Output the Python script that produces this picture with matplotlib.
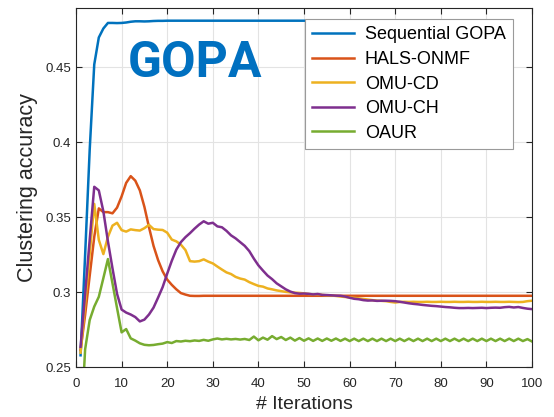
import matplotlib.pyplot as plt
from matplotlib.ticker import FormatStrFormatter

plt.rcParams['font.family'] = ['Liberation Sans', 'DejaVu Sans']

# iteration counts
iters = list(range(1, 101))
iters_gopa = list(range(1, 51))

labels = ["Sequential GOPA", "HALS-ONMF", "OMU-CD", "OMU-CH", "OAUR"]
colors = ["#0072BD", "#D95319", "#EDB120", "#7E2F8E", "#77AC30"]

seq_gopa = [
    0.258, 0.325, 0.395, 0.452, 0.470, 0.476, 0.4797, 0.4797, 0.4796, 0.4797,
    0.4800, 0.4805, 0.4808, 0.4808, 0.4807, 0.4808, 0.4810, 0.4811, 0.4811, 0.4812,
    0.4812, 0.4812, 0.4812, 0.4812, 0.4812, 0.4812, 0.4812, 0.4812, 0.4812, 0.4812,
    0.4812, 0.4812, 0.4812, 0.4812, 0.4812, 0.4812, 0.4812, 0.4812, 0.4812, 0.4812,
    0.4812, 0.4812, 0.4812, 0.4812, 0.4812, 0.4812, 0.4812, 0.4812, 0.4812, 0.4812,
]

hals_onmf = [
    0.2615, 0.285, 0.311, 0.337, 0.356, 0.3535, 0.3535, 0.3527, 0.3565, 0.364,
    0.373, 0.3775, 0.3745, 0.368, 0.357, 0.3435, 0.331, 0.3215, 0.314, 0.3085,
    0.305, 0.302, 0.2995, 0.2985, 0.2977, 0.2976, 0.2976, 0.2977, 0.2977, 0.2977,
    0.2977, 0.2977, 0.2977, 0.2977, 0.2977, 0.2977, 0.2977, 0.2977, 0.2977, 0.2977,
    0.2977, 0.2977, 0.2977, 0.2977, 0.2977, 0.2977, 0.2977, 0.2977, 0.2977, 0.2977,
    0.2977, 0.2977, 0.2977, 0.2977, 0.2977, 0.2977, 0.2977, 0.2977, 0.2977, 0.2977,
    0.2977, 0.2977, 0.2977, 0.2977, 0.2977, 0.2977, 0.2977, 0.2977, 0.2977, 0.2977,
    0.2977, 0.2977, 0.2977, 0.2977, 0.2977, 0.2977, 0.2977, 0.2977, 0.2977, 0.2977,
    0.2977, 0.2977, 0.2977, 0.2977, 0.2977, 0.2977, 0.2977, 0.2977, 0.2977, 0.2977,
    0.2977, 0.2977, 0.2977, 0.2977, 0.2977, 0.2977, 0.2977, 0.2977, 0.2977, 0.2977,
]

omu_cd = [
    0.2597, 0.292, 0.326, 0.359, 0.335, 0.3255, 0.337, 0.3445, 0.3464, 0.3415,
    0.3405, 0.342, 0.3415, 0.3412, 0.3428, 0.345, 0.3422, 0.3418, 0.3416, 0.3398,
    0.3352, 0.334, 0.3318, 0.3282, 0.3208, 0.3205, 0.3208, 0.322, 0.3205, 0.3193,
    0.3172, 0.3152, 0.3133, 0.3122, 0.3103, 0.3092, 0.3085, 0.3068, 0.3055, 0.3043,
    0.3038, 0.3026, 0.302, 0.3013, 0.3008, 0.3003, 0.3, 0.2998, 0.2996, 0.2993,
    0.2989, 0.2986, 0.2987, 0.2983, 0.298, 0.2979, 0.2976, 0.2972, 0.2969, 0.2966,
    0.2963, 0.296, 0.2956, 0.2952, 0.2948, 0.2945, 0.2943, 0.2941, 0.2936, 0.2932,
    0.2936, 0.2937, 0.2936, 0.2937, 0.2936, 0.2936, 0.2937, 0.2936, 0.2936, 0.2937,
    0.2936, 0.2936, 0.2937, 0.2936, 0.2936, 0.2937, 0.2936, 0.2936, 0.2937, 0.2936,
    0.2936, 0.2937, 0.2936, 0.2936, 0.2937, 0.2936, 0.2935, 0.2936, 0.2941, 0.2944,
]

omu_ch = [
    0.2637, 0.299, 0.335, 0.3704, 0.368, 0.354, 0.334, 0.316, 0.299, 0.2885,
    0.2865, 0.2852, 0.2835, 0.2806, 0.2818, 0.2852, 0.2898, 0.2965, 0.3035, 0.3125,
    0.321, 0.3285, 0.3335, 0.3368, 0.3395, 0.3425, 0.3452, 0.3474, 0.3458, 0.3464,
    0.344, 0.3434, 0.341, 0.338, 0.336, 0.3335, 0.331, 0.3275, 0.3225, 0.318,
    0.3145, 0.3112, 0.3088, 0.306, 0.304, 0.302, 0.3005, 0.2995, 0.2991, 0.2992,
    0.299, 0.2986, 0.2989, 0.2983, 0.2982, 0.298, 0.2978, 0.2977, 0.2972, 0.2964,
    0.2957, 0.2954, 0.2948, 0.2945, 0.2946, 0.2943, 0.2944, 0.2944, 0.2943, 0.2941,
    0.2937, 0.2932, 0.2927, 0.2923, 0.292, 0.2916, 0.2913, 0.291, 0.2908, 0.2905,
    0.2902, 0.29, 0.2897, 0.2895, 0.2895, 0.2896, 0.2895, 0.2896, 0.2897, 0.2895,
    0.2897, 0.2898, 0.2897, 0.2901, 0.2903, 0.2899, 0.2902, 0.2896, 0.2891, 0.2888,
]

oaur = [
    0.205, 0.262, 0.2815, 0.2905, 0.297, 0.3095, 0.3222, 0.306, 0.2895, 0.2733,
    0.2755, 0.2693, 0.2678, 0.266, 0.265, 0.2647, 0.2649, 0.2654, 0.2658, 0.2668,
    0.2662, 0.2675, 0.2672, 0.2677, 0.2674, 0.2679, 0.2676, 0.2683, 0.2677, 0.2686,
    0.2692, 0.2686, 0.269, 0.2686, 0.2689, 0.2685, 0.2689, 0.2682, 0.2705, 0.268,
    0.2698, 0.2684, 0.2708, 0.2688, 0.2702, 0.2682, 0.2698, 0.2678, 0.2695, 0.2677,
    0.2693, 0.2676, 0.2692, 0.2676, 0.2692, 0.2677, 0.2692, 0.2676, 0.2691, 0.2675,
    0.2691, 0.2675, 0.2691, 0.2675, 0.2691, 0.2675, 0.2691, 0.2675, 0.2691, 0.2675,
    0.2691, 0.2675, 0.2691, 0.2675, 0.2691, 0.2675, 0.2691, 0.2675, 0.2691, 0.2675,
    0.2691, 0.2675, 0.2691, 0.2675, 0.2691, 0.2675, 0.2691, 0.2675, 0.2691, 0.2675,
    0.2691, 0.2675, 0.2691, 0.2675, 0.2691, 0.2675, 0.2691, 0.2675, 0.2688, 0.2672,
]

fig = plt.figure(figsize=(5.54, 4.17), dpi=100)
ax = fig.add_axes([0.1372, 0.1192, 0.8231, 0.8628])

series = [(iters_gopa, seq_gopa), (iters, hals_onmf), (iters, omu_cd), (iters, omu_ch), (iters, oaur)]
for (xs, ys), lab, col in zip(series, labels, colors):
    ax.plot(xs, ys, color=col, lw=1.8, label=lab, solid_joinstyle='round')

ax.set_xlim(0, 100)
ax.set_ylim(0.25, 0.49)
ax.set_xticks(range(0, 101, 10))
ax.set_yticks([0.25, 0.3, 0.35, 0.4, 0.45])
ax.yaxis.set_major_formatter(FormatStrFormatter('%g'))
ax.grid(True, color='#e3e3e3', lw=0.8)
ax.set_axisbelow(True)

for sp in ax.spines.values():
    sp.set_color('#262626')
    sp.set_linewidth(0.8)
ax.tick_params(direction='in', top=True, right=True, length=4, width=0.8,
               colors='#262626', labelsize=9.5)
ax.tick_params(axis='x', pad=8)
ax.tick_params(axis='y', pad=3.5)

ax.set_xlabel("# Iterations", fontsize=14, color='#262626', labelpad=4)
ax.set_ylabel("Clustering accuracy", fontsize=15.5, color='#262626', labelpad=5)

ax.text(11.25, 0.4435, "GOPA", color='#0070C0', fontsize=36, fontweight='bold',
        family='Roboto', ha='left', va='baseline')

leg = ax.legend(loc='upper right', bbox_to_anchor=(0.958, 0.9675), borderaxespad=0,
                fontsize=13, handlelength=2.3, handletextpad=0.6, borderpad=0.4,
                labelspacing=0.42, fancybox=False, framealpha=1)
leg.get_frame().set_edgecolor('#9a9a9a')
leg.get_frame().set_linewidth(0.8)

fig.savefig("out.png", dpi=100)
